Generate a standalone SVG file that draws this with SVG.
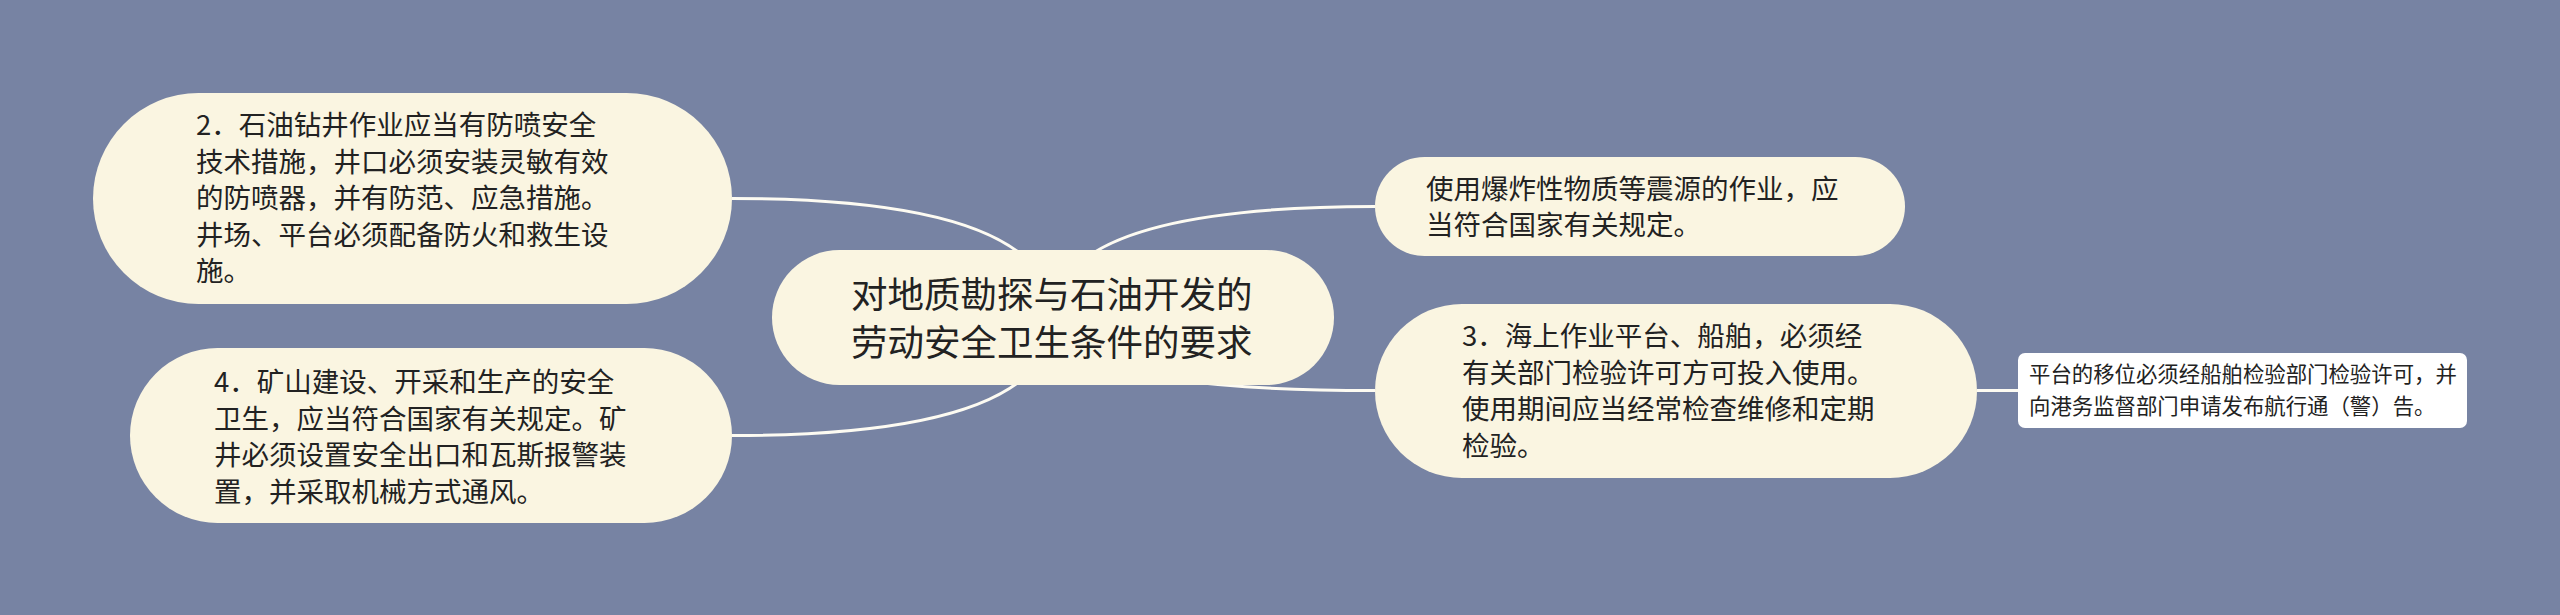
<svg xmlns="http://www.w3.org/2000/svg" width="2560" height="615" viewBox="0 0 2560 615">
<style>
.node{fill:#faf5e1;}
.leaf{fill:#ffffff;}
.t{font-family:"Noto Sans CJK SC","Noto Sans",sans-serif;fill:#222222;font-size:27.5px;}
.root{font-size:36.5px;}
.small{font-size:21.4px;}
.conn{fill:none;stroke:#fdfbf2;stroke-width:3;}
</style>
<rect width="2560" height="615" fill="#7783a3"/>
<g id="connectors">
<path class="conn" d="M732,198.5 Q1053,198.5 1053,317.5"/>
<path class="conn" d="M732,435.5 Q1053,435.5 1053,317.5"/>
<path class="conn" d="M1375,206.5 Q1053,206.5 1053,317.5"/>
<path class="conn" d="M1375,390.5 Q1053,390.5 1053,317.5"/>
<path class="conn" d="M1977,390.5 L2018,390.5"/>
</g>
<g id="root">
<rect class="node" x="772" y="250" width="562" height="135" rx="67.5"/>
<text class="t root"><tspan x="851" y="308">对地质勘探与石油开发的</tspan><tspan x="851" y="356">劳动安全卫生条件的要求</tspan></text>
</g>
<g id="node2">
<rect class="node" x="93" y="93" width="639" height="211" rx="105.5"/>
<text class="t"><tspan x="196" y="135">2．石油钻井作业应当有防喷安全</tspan><tspan x="196" y="171.5">技术措施，井口必须安装灵敏有效</tspan><tspan x="196" y="208">的防喷器，并有防范、应急措施。</tspan><tspan x="196" y="244.5">井场、平台必须配备防火和救生设</tspan><tspan x="196" y="281">施。</tspan></text>
</g>
<g id="node4">
<rect class="node" x="130" y="348" width="602" height="175" rx="87.5"/>
<text class="t"><tspan x="214" y="392">4．矿山建设、开采和生产的安全</tspan><tspan x="214" y="428.5">卫生，应当符合国家有关规定。矿</tspan><tspan x="214" y="465">井必须设置安全出口和瓦斯报警装</tspan><tspan x="214" y="501.5">置，并采取机械方式通风。</tspan></text>
</g>
<g id="node1">
<rect class="node" x="1375" y="157" width="530" height="99" rx="49.5"/>
<text class="t"><tspan x="1426" y="198.5">使用爆炸性物质等震源的作业，应</tspan><tspan x="1426" y="235">当符合国家有关规定。</tspan></text>
</g>
<g id="node3">
<rect class="node" x="1375" y="304" width="602" height="174" rx="87"/>
<text class="t"><tspan x="1462" y="346">3．海上作业平台、船舶，必须经</tspan><tspan x="1462" y="383">有关部门检验许可方可投入使用。</tspan><tspan x="1462" y="419">使用期间应当经常检查维修和定期</tspan><tspan x="1462" y="456">检验。</tspan></text>
</g>
<g id="node5">
<rect class="leaf" x="2018" y="353" width="449" height="75" rx="7"/>
<text class="t small"><tspan x="2029" y="382">平台的移位必须经船舶检验部门检验许可，并</tspan><tspan x="2029" y="414">向港务监督部门申请发布航行通（警）告。</tspan></text>
</g>
</svg>
